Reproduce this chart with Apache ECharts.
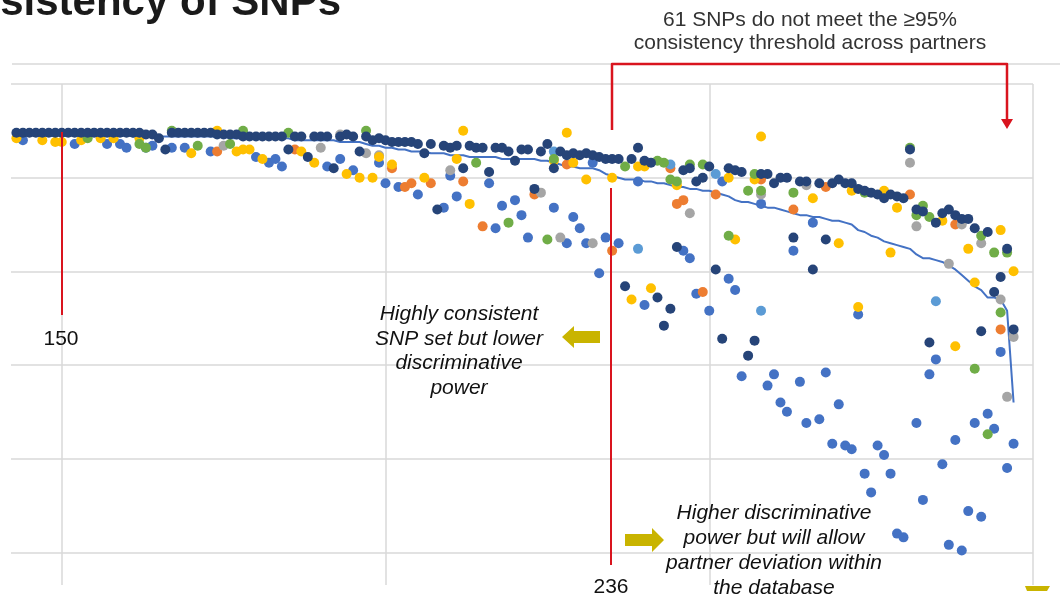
<!DOCTYPE html>
<html>
<head>
<meta charset="utf-8">
<script src="https://cdn.jsdelivr.net/npm/echarts@6/dist/echarts.min.js"></script>
<style>
  html, body { margin: 0; padding: 0; background: #fff; }
  #snpChart { width: 1060px; height: 602px; }
</style>
</head>
<body>
<div id="snpChart"></div>
<script>
// SNP rank of the first visible point (x axis = SNP rank, y axis = consistency %)
const firstRank = 143;

// dark navy partner (drawn on top), one value per SNP from rank 143 to 297
const navyValues = [
  97.4, 97.4, 97.4, 97.4, 97.4, 97.4, 97.4, 97.4, 97.4, 97.4,
  97.4, 97.4, 97.4, 97.4, 97.4, 97.4, 97.4, 97.4, 97.4, 97.4,
  97.3, 97.3, 97.1, 96.5, 97.4, 97.4, 97.4, 97.4, 97.4, 97.4,
  97.4, 97.3, 97.3, 97.3, 97.3, 97.2, 97.2, 97.2, 97.2, 97.2,
  97.2, 97.2, 96.5, 97.2, 97.2, 96.1, 97.2, 97.2, 97.2, 95.5,
  97.2, 97.3, 97.2, 96.4, 97.2, 97.0, 97.1, 97.0, 96.9, 96.9,
  96.9, 96.9, 96.8, 96.3, 96.8, 93.3, 96.7, 96.6, 96.7, 95.5,
  96.7, 96.6, 96.6, 95.3, 96.6, 96.6, 96.4, 95.9, 96.5, 96.5,
  94.4, 96.4, 96.8, 95.5, 96.4, 96.2, 96.3, 96.2, 96.3, 96.2,
  96.1, 96.0, 96.0, 96.0, 89.2, 96.0, 96.6, 95.9, 95.8, 88.6,
  87.1, 88.0, 91.3, 95.4, 95.5, 94.8, 95.0, 95.6, 90.1, 86.4,
  95.5, 95.4, 95.3, 85.5, 86.3, 95.2, 95.2, 94.7, 95.0, 95.0,
  91.8, 94.8, 94.8, 90.1, 94.7, 91.7, 94.7, 94.9, 94.7, 94.7,
  94.4, 94.3, 94.2, 94.1, 93.9, 94.1, 94.0, 93.9, 96.5, 93.3,
  93.2, 86.2, 92.6, 93.1, 93.3, 93.0, 92.8, 92.8, 92.3, 86.8,
  92.1, 88.9, 89.7, 91.2, 86.9
];

// mean consistency across partners (blue line), rank 143 to 297
const meanValues = [
  97.3, 97.3, 97.3, 97.3, 97.3, 97.3, 97.3, 97.3, 97.3, 97.3,
  97.3, 97.3, 97.3, 97.3, 97.3, 97.3, 97.3, 97.3, 97.2, 97.2,
  97.2, 97.2, 97.2, 97.2, 97.2, 97.2, 97.2, 97.2, 97.2, 97.2,
  97.2, 97.2, 97.2, 97.1, 97.1, 97.1, 97.1, 97.1, 97.1, 97.1,
  97.1, 97.1, 97.1, 97.0, 97.0, 97.0, 97.0, 97.0, 97.0, 97.0,
  96.9, 96.9, 96.9, 96.9, 96.8, 96.7, 96.7, 96.6, 96.6, 96.5,
  96.5, 96.4, 96.4, 96.4, 96.3, 96.3, 96.3, 96.2, 96.2, 96.2,
  96.1, 96.1, 96.1, 96.1, 96.1, 96.0, 96.0, 96.0, 96.0, 96.0,
  96.0, 95.9, 95.9, 95.8, 95.7, 95.6, 95.6, 95.5, 95.5, 95.5,
  95.4, 95.2, 95.1, 95.0, 94.9, 94.9, 94.9, 94.8, 94.8, 94.7,
  94.7, 94.6, 94.5, 94.5, 94.4, 94.4, 94.3, 94.3, 94.2, 94.1,
  94.0, 93.8, 93.7, 93.7, 93.6, 93.5, 93.4, 93.4, 93.3, 93.2,
  93.1, 93.0, 93.0, 92.9, 92.9, 92.8, 92.7, 92.7, 92.6, 92.5,
  92.2, 92.1, 91.9, 91.8, 91.6, 91.5, 91.4, 91.3, 91.2, 90.9,
  90.7, 90.7, 90.6, 90.5, 90.3, 90.1, 89.8, 89.5, 89.2, 89.0,
  88.6, 88.6, 88.5, 87.9, 83.0
];

// other partners: [SNP rank, consistency %], only the points that show
const bluePoints = [
  [144, 97.0], [152, 96.8], [157, 96.8], [159, 96.8], [160, 96.6], [163, 96.6], [164, 96.7],
  [167, 96.6], [169, 96.6], [173, 96.4], [180, 96.1], [182, 95.8], [183, 96.0], [184, 95.6],
  [191, 95.6], [193, 96.0], [195, 95.4], [199, 95.8], [200, 94.7], [202, 94.5], [205, 94.1],
  [209, 93.4], [210, 95.1], [211, 94.0], [216, 94.7], [217, 92.3], [218, 93.5], [220, 93.8],
  [221, 93.0], [222, 91.8], [226, 93.4], [228, 91.5], [229, 92.9], [230, 92.3], [231, 91.5],
  [232, 95.8], [233, 89.9], [234, 91.8], [236, 91.5], [239, 94.8], [240, 88.2], [246, 91.1],
  [247, 90.7], [248, 88.8], [250, 87.9], [252, 94.8], [253, 89.6], [254, 89.0], [255, 84.4],
  [258, 93.6], [259, 83.9], [260, 84.5], [261, 83.0], [262, 82.5], [263, 91.1], [264, 84.1],
  [265, 81.9], [266, 92.6], [267, 82.1], [268, 84.6], [269, 80.8], [270, 82.9], [271, 80.7],
  [272, 80.5], [273, 87.7], [274, 79.2], [275, 78.2], [276, 80.7], [277, 80.2], [278, 79.2],
  [279, 76.0], [280, 75.8], [282, 81.9], [283, 77.8], [284, 84.5], [285, 85.3], [286, 79.7],
  [287, 75.4], [288, 81.0], [289, 75.1], [290, 77.2], [291, 81.9], [292, 76.9], [293, 82.4],
  [294, 81.6], [295, 85.7], [296, 79.5], [297, 80.8]
];
const orangePoints = [
  [174, 96.4], [186, 96.5], [201, 95.5], [203, 94.5], [204, 94.7], [207, 94.7], [212, 94.8],
  [215, 92.4], [223, 94.1], [228, 95.7], [235, 91.1], [244, 95.5], [245, 93.6], [246, 93.8],
  [249, 88.9], [251, 94.1], [258, 94.9], [263, 93.3], [268, 94.5], [281, 94.1], [288, 92.5],
  [295, 86.9]
];
const grayPoints = [
  [175, 96.7], [190, 96.6], [193, 97.3], [197, 96.3], [199, 96.2], [210, 95.4], [224, 94.2],
  [227, 91.8], [232, 91.5], [247, 93.1], [258, 94.1], [265, 94.6], [281, 95.8], [282, 92.4],
  [287, 90.4], [289, 92.5], [292, 91.5], [295, 88.5], [296, 83.3], [297, 86.5]
];
const yellowPoints = [
  [143, 97.1], [147, 97.0], [149, 96.9], [150, 96.9], [153, 97.0], [156, 97.1], [158, 97.1],
  [162, 97.1], [170, 96.3], [174, 97.5], [177, 96.4], [178, 96.5], [179, 96.5], [181, 96.0],
  [187, 96.4], [189, 95.8], [194, 95.2], [196, 95.0], [198, 95.0], [199, 96.1], [201, 95.7],
  [206, 95.0], [211, 96.0], [212, 97.5], [213, 93.6], [226, 95.9], [228, 97.4], [229, 95.8],
  [231, 94.9], [235, 95.0], [238, 88.5], [239, 95.6], [240, 95.6], [241, 89.1], [245, 94.6],
  [253, 95.0], [254, 91.7], [257, 94.9], [258, 97.2], [266, 93.9], [270, 91.5], [272, 94.3],
  [273, 88.1], [277, 94.3], [278, 91.0], [279, 93.4], [286, 92.7], [288, 86.0], [290, 91.2],
  [291, 89.4], [295, 92.2], [297, 90.0]
];
const lightBluePoints = [
  [226, 96.4], [239, 91.2], [244, 95.7], [251, 95.2], [258, 87.9], [285, 88.4]
];
const greenPoints = [
  [154, 97.1], [162, 96.8], [163, 96.6], [167, 97.5], [171, 96.7], [176, 96.8], [178, 97.5],
  [185, 97.4], [197, 97.5], [214, 95.8], [219, 92.6], [225, 91.7], [226, 96.0], [237, 95.6],
  [242, 95.9], [243, 95.8], [244, 94.9], [245, 94.8], [247, 95.7], [249, 95.7], [253, 91.9],
  [256, 94.3], [257, 95.2], [258, 94.3], [263, 94.2], [274, 94.2], [281, 96.6], [282, 93.0],
  [283, 93.5], [284, 92.9], [291, 84.8], [292, 91.9], [293, 81.3], [294, 91.0], [295, 87.8],
  [296, 91.0]
];

// axis ticks
const xTicks = { min: 100, max: 300, step: 50 };
const yTicks = { min: 70, max: 100, step: 5 };

const chart = echarts.init(document.getElementById('snpChart'));

function ranked (values) {
  return values.map((v, i) => [firstRank + i, v]);
}

function dots (name, color, data) {
  return {
    name: name,
    type: 'scatter',
    symbol: 'circle',
    symbolSize: 10,
    itemStyle: { color: color, opacity: 1 },
    data: data
  };
}

const red = '#d9141e';
const olive = '#c9b400';
const textFont = '21px "Liberation Sans", Arial, sans-serif';
const italicFont = 'italic 21px "Liberation Sans", Arial, sans-serif';

chart.setOption({
  animation: false,
  // the plot is cropped on the left and bottom, so the grid runs past the canvas
  grid: { left: -262, right: 27, top: 84, bottom: -44, outerBoundsMode: 'none', containLabel: false },
  xAxis: {
    type: 'value',
    min: xTicks.min,
    max: xTicks.max,
    interval: xTicks.step,
    axisLine: { show: false },
    axisTick: { show: false },
    axisLabel: { show: false },
    splitLine: { lineStyle: { color: '#d9d9d9', width: 1.5 } }
  },
  yAxis: {
    type: 'value',
    min: yTicks.min,
    max: yTicks.max,
    interval: yTicks.step,
    axisLine: { show: false },
    axisTick: { show: false },
    axisLabel: { show: false },
    splitLine: { lineStyle: { color: '#d9d9d9', width: 1.5 } }
  },
  series: [
    {
      name: 'mean',
      type: 'line',
      data: ranked(meanValues),
      symbol: 'none',
      lineStyle: { color: '#4472c4', width: 2 },
      z: 1
    },
    dots('blue', '#4472c4', bluePoints),
    dots('orange', '#ed7d31', orangePoints),
    dots('gray', '#a5a5a5', grayPoints),
    dots('yellow', '#ffc000', yellowPoints),
    dots('lightBlue', '#5b9bd5', lightBluePoints),
    dots('green', '#70ad47', greenPoints),
    dots('navy', '#264478', ranked(navyValues))
  ],
  graphic: [
    // hide grid lines outside the cropped plot area
    { type: 'rect', z: 100, shape: { x: 0, y: 60, width: 11, height: 542 }, style: { fill: '#fff' } },
    { type: 'rect', z: 100, shape: { x: 0, y: 585, width: 1060, height: 17 }, style: { fill: '#fff' } },
    { type: 'line', z: 100, shape: { x1: 12, y1: 64, x2: 1060, y2: 64 }, style: { stroke: '#d9d9d9', lineWidth: 1.5 } },
    {
      type: 'text', z: 101, x: 341, y: 3,
      style: { text: 'Consistency of SNPs', font: 'bold 42px "Liberation Sans", Arial, sans-serif', fill: '#1a1a1a', align: 'right', verticalAlign: 'middle' }
    },
    {
      type: 'text', z: 101, x: 810, y: 32,
      style: { text: '61 SNPs do not meet the ≥95%\nconsistency threshold across partners', font: textFont, lineHeight: 23, fill: '#333', align: 'center', verticalAlign: 'middle' }
    },
    // red bracket over the 61 SNPs
    { type: 'polyline', z: 101, shape: { points: [[612, 130], [612, 64], [1007, 64], [1007, 121]] }, style: { stroke: red, lineWidth: 2.5, fill: null, lineJoin: 'round' } },
    { type: 'polygon', z: 101, shape: { points: [[1001, 119], [1013, 119], [1007, 129]] }, style: { fill: red } },
    // cut-off markers
    { type: 'line', z: 101, shape: { x1: 62, y1: 132, x2: 62, y2: 315 }, style: { stroke: red, lineWidth: 2 } },
    { type: 'line', z: 101, shape: { x1: 611, y1: 188, x2: 611, y2: 565 }, style: { stroke: red, lineWidth: 2 } },
    { type: 'text', z: 101, x: 61, y: 339, style: { text: '150', font: textFont, fill: '#111', align: 'center', verticalAlign: 'middle' } },
    { type: 'text', z: 101, x: 611, y: 587, style: { text: '236', font: textFont, fill: '#111', align: 'center', verticalAlign: 'middle' } },
    {
      type: 'text', z: 101, x: 459, y: 351,
      style: { text: 'Highly consistent\nSNP set but lower\ndiscriminative\npower', font: italicFont, lineHeight: 24.5, fill: '#111', align: 'center', verticalAlign: 'middle' }
    },
    {
      type: 'text', z: 101, x: 774, y: 551,
      style: { text: 'Higher discriminative\npower but will allow\npartner deviation within\nthe database', font: italicFont, lineHeight: 25, fill: '#111', align: 'center', verticalAlign: 'middle' }
    },
    // olive arrows
    { type: 'polygon', z: 101, shape: { points: [[562, 337], [574, 326], [574, 331], [600, 331], [600, 343], [574, 343], [574, 348]] }, style: { fill: olive } },
    { type: 'polygon', z: 101, shape: { points: [[625, 534], [652, 534], [652, 528], [664, 540], [652, 552], [652, 546], [625, 546]] }, style: { fill: olive } },
    { type: 'polygon', z: 101, shape: { points: [[1025, 586], [1050, 586], [1047, 591], [1027, 591]] }, style: { fill: olive } }
  ]
});
</script>
</body>
</html>
